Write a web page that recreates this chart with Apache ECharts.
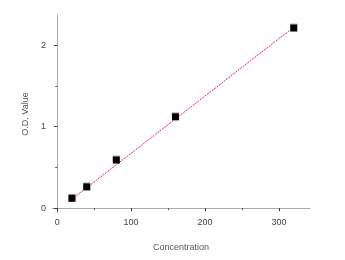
<!DOCTYPE html>
<html><head><meta charset="utf-8">
<script src="https://cdn.jsdelivr.net/npm/echarts@6/dist/echarts.min.js"></script>
<style>html,body{margin:0;padding:0;background:#fff}#c{width:345px;height:260px}</style>
</head><body><div id="c"></div>
<script>
const concentration = [20, 40, 80, 160, 320];
const odValue = [0.12, 0.26, 0.59, 1.12, 2.21];
const fitX = [20, 320];
const fitY = [0.11, 2.22];
const xTicks = [0, 100, 200, 300];
const xMinor = [50, 150, 250];
const yTicks = [0, 1, 2];
const yMinor = [0.5, 1.5];

const font = 'Liberation Sans, Arial, sans-serif';
const axisCommon = {
  axisLine: {show: true, lineStyle: {color: '#aaa', width: 1}},
  splitLine: {show: false}
};
const chart = echarts.init(document.getElementById('c'), null, {renderer: 'canvas'});
chart.setOption({
  animation: false,
  backgroundColor: '#fff',
  grid: {left: 52, top: 15, right: 35, bottom: 47},
  xAxis: [{
    type: 'value', min: -7, max: 342,
    name: 'Concentration', nameLocation: 'middle', nameGap: 30,
    nameTextStyle: {color: '#555', fontFamily: font, fontSize: 9},
    ...axisCommon,
    axisTick: {show: true, inside: false, length: 3, customValues: xTicks, lineStyle: {color: '#333'}},
    axisLabel: {show: true, customValues: xTicks, margin: 5, color: '#444', fontFamily: font, fontSize: 9}
  }, {
    type: 'value', min: -7, max: 342, position: 'bottom',
    axisLine: {show: false}, splitLine: {show: false},
    axisTick: {show: true, length: 2, customValues: xMinor, lineStyle: {color: '#555'}},
    axisLabel: {show: false}
  }],
  yAxis: [{
    type: 'value', min: -0.06, max: 2.37,
    name: 'O.D. Value', nameLocation: 'middle', nameGap: 18, nameRotate: 90,
    nameTextStyle: {color: '#555', fontFamily: font, fontSize: 9},
    ...axisCommon,
    axisTick: {show: true, inside: false, length: 3, customValues: yTicks, lineStyle: {color: '#333'}},
    axisLabel: {show: true, customValues: yTicks, margin: 6, color: '#444', fontFamily: font, fontSize: 9}
  }, {
    type: 'value', min: -0.06, max: 2.37, position: 'left',
    axisLine: {show: false}, splitLine: {show: false},
    axisTick: {show: true, length: 2, customValues: yMinor, lineStyle: {color: '#555'}},
    axisLabel: {show: false}
  }],
  series: [{
    type: 'line',
    data: fitX.map((x, i) => [x, fitY[i]]),
    symbol: 'none',
    lineStyle: {color: '#f0205a', width: 1, type: [2, 1]},
    z: 2
  }, {
    type: 'scatter',
    data: concentration.map((x, i) => [x, odValue[i]]),
    symbol: 'rect', symbolSize: 7,
    itemStyle: {color: '#000', opacity: 1, shadowColor: '#aaa', shadowOffsetX: 0, shadowOffsetY: -1, shadowBlur: 0},
    z: 3
  }]
});
</script></body></html>
